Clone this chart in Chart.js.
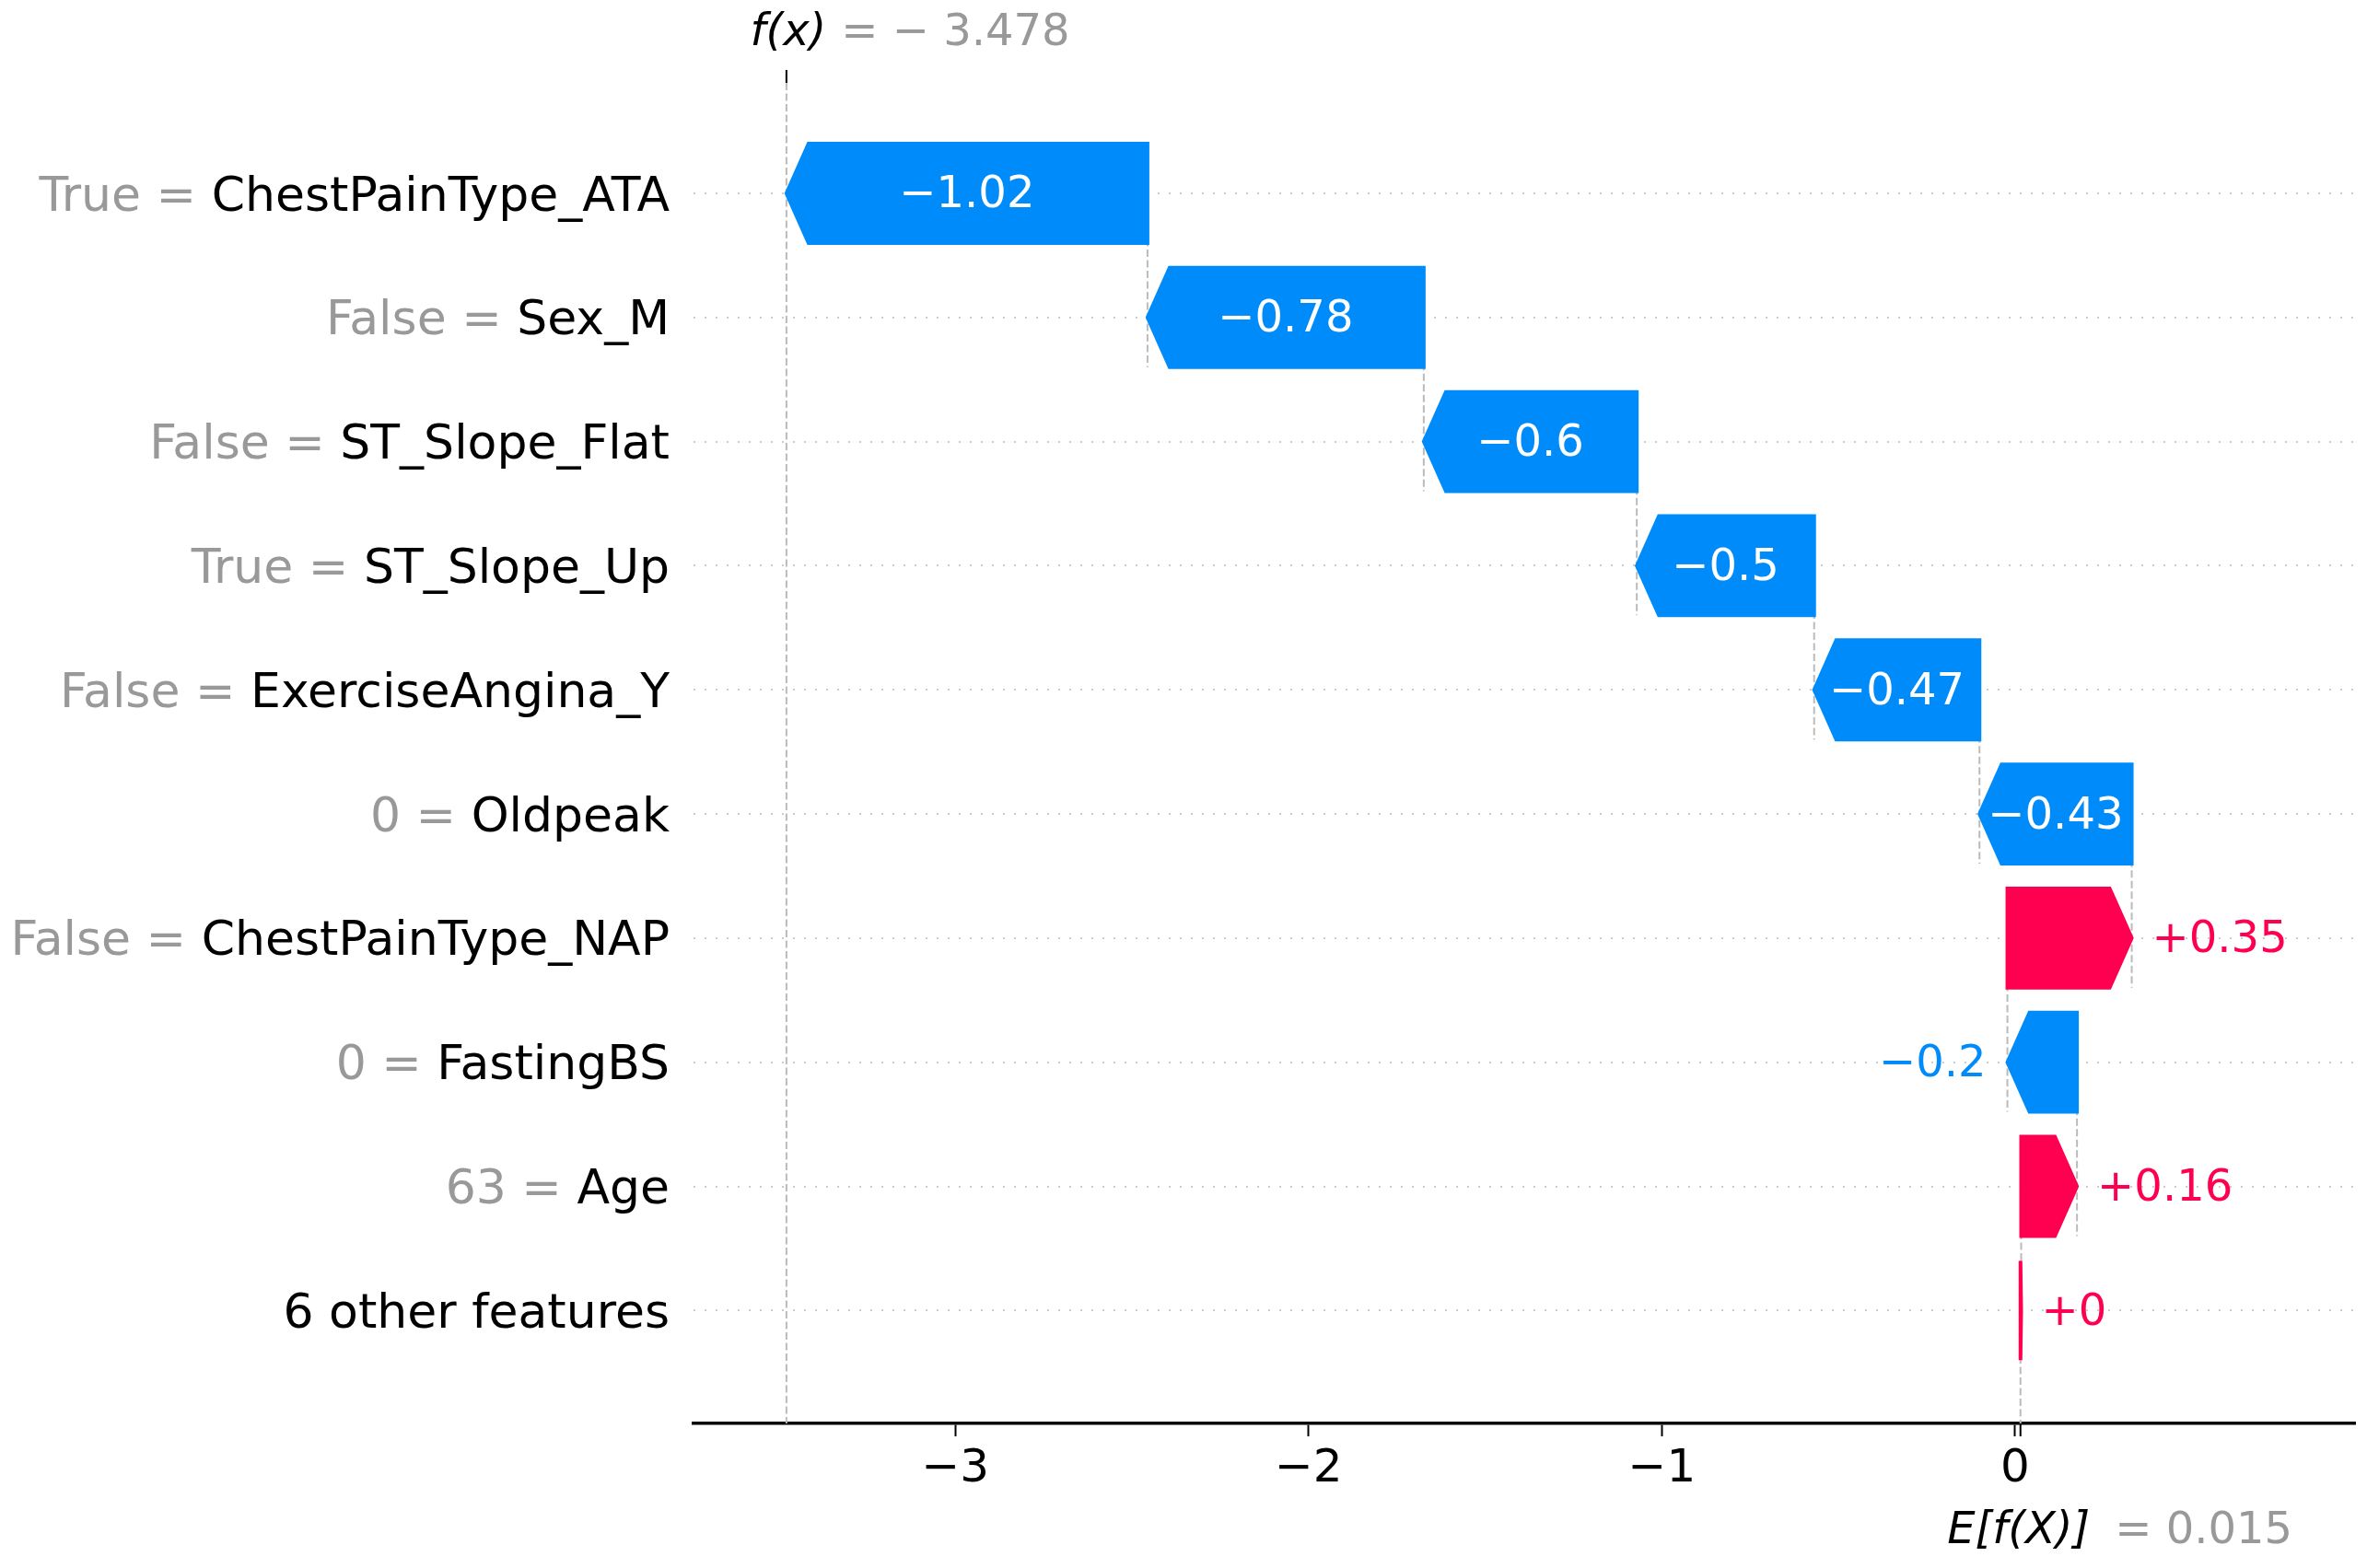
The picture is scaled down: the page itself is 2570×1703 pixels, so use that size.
<!DOCTYPE html>
<html>
<head>
<meta charset="utf-8">
<script src="https://cdn.jsdelivr.net/npm/chart.js@4.4.1/dist/chart.umd.min.js"></script>
<style>
  html, body { margin: 0; padding: 0; background: #fff; }
  canvas { display: block; }
</style>
</head>
<body>
<canvas id="waterfall" width="2570" height="1703"></canvas>
<script>
// rows from top to bottom
const featureNames = ['ChestPainType_ATA', 'Sex_M', 'ST_Slope_Flat', 'ST_Slope_Up', 'ExerciseAngina_Y',
                      'Oldpeak', 'ChestPainType_NAP', 'FastingBS', 'Age', '6 other features'];
const featureValues = ['True', 'False', 'False', 'True', 'False', '0', 'False', '0', '63', ''];
const shapValues = [-1.022, -0.782, -0.603, -0.502, -0.468, -0.431, 0.352, -0.197, 0.158, 0.002];
const baseValue = 0.015;
const fxValue = -3.478;
const xTicks = [-3, -2, -1, 0];

const RED = '#ff0051';
const BLUE = '#008bfb';
const FONT = 'DejaVu Sans';
const LABEL_SIZE = 52;   // feature names
const TICK_SIZE = 50;    // x ticks
const TEXT_SIZE = 48;    // bar values, f(x), E[f(X)]
const LABEL_SHIFT = 5;   // matplotlib centres text a little lower than canvas 'middle'

// waterfall: the bottom row starts at the base value
const starts = [];
const ends = [];
let acc = baseValue;
for (let i = shapValues.length - 1; i >= 0; i--) {
  starts[i] = acc;
  acc += shapValues[i];
  ends[i] = acc;
}

function fmtShap(v) {
  let s = (v >= 0 ? '+' : '') + v.toFixed(2);
  s = s.replace(/0+$/, '').replace(/\.$/, '');
  return s.replace('-', '\u2212');
}

const font = (size, style) => (style ? style + ' ' : '') + size + 'px "' + FONT + '"';

const waterfallPlugin = {
  id: 'waterfall',
  beforeDatasetsDraw(chart) {
    const {ctx, chartArea, scales: {x, y}} = chart;
    ctx.save();
    ctx.beginPath();
    ctx.rect(chartArea.left, chartArea.top, chartArea.right - chartArea.left, chartArea.bottom - chartArea.top);
    ctx.clip();
    ctx.strokeStyle = '#bbbbbb';
    ctx.lineWidth = 2;
    ctx.setLineDash([8, 3.5]);
    for (let i = 0; i < shapValues.length; i++) {
      const px = x.getPixelForValue(starts[i]);
      ctx.beginPath();
      ctx.moveTo(px, y.getPixelForValue(i - 0.4));
      ctx.lineTo(px, y.getPixelForValue(i + 1.4));
      ctx.stroke();
    }
    const fx = x.getPixelForValue(fxValue);
    ctx.beginPath();
    ctx.moveTo(fx, chartArea.top);
    ctx.lineTo(fx, chartArea.bottom);
    ctx.stroke();
    ctx.restore();
  },
  afterDatasetsDraw(chart) {
    const {ctx} = chart;
    const meta = chart.getDatasetMeta(0);
    const headLen = 24;
    ctx.save();
    ctx.font = font(TEXT_SIZE);
    ctx.textBaseline = 'middle';
    meta.data.forEach((bar, i) => {
      const p = bar.getProps(['x', 'base', 'y', 'height'], true);
      const lo = Math.min(p.x, p.base);
      const hi = Math.max(p.x, p.base);
      const len = hi - lo;
      const h = Math.min(headLen, len);
      const top = p.y - p.height / 2;
      const bot = p.y + p.height / 2;
      const pos = shapValues[i] >= 0;
      const color = pos ? RED : BLUE;

      ctx.beginPath();
      if (pos) {
        ctx.moveTo(lo, top); ctx.lineTo(hi - h, top); ctx.lineTo(hi, p.y);
        ctx.lineTo(hi - h, bot); ctx.lineTo(lo, bot);
      } else {
        ctx.moveTo(hi, top); ctx.lineTo(lo + h, top); ctx.lineTo(lo, p.y);
        ctx.lineTo(lo + h, bot); ctx.lineTo(hi, bot);
      }
      ctx.closePath();
      ctx.fillStyle = color;
      ctx.strokeStyle = color;
      ctx.lineWidth = 4;
      ctx.lineJoin = 'miter';
      ctx.fill();
      ctx.stroke();

      const txt = fmtShap(shapValues[i]);
      const tw = ctx.measureText(txt).width;
      const ty = p.y + 3;
      if (tw < len) {
        ctx.fillStyle = '#ffffff';
        ctx.textAlign = 'center';
        ctx.fillText(txt, (lo + hi) / 2, ty);
      } else {
        ctx.fillStyle = color;
        if (pos) {
          ctx.textAlign = 'left';
          ctx.fillText(txt, hi + 22, ty);
        } else {
          ctx.textAlign = 'right';
          ctx.fillText(txt, lo - 23, ty);
        }
      }
    });
    ctx.restore();
  },
  afterDraw(chart) {
    const {ctx, chartArea, scales: {x, y}} = chart;
    ctx.save();
    ctx.textBaseline = 'middle';

    // grey "value = " part of the feature labels
    ctx.font = font(LABEL_SIZE);
    ctx.fillStyle = '#999999';
    ctx.textAlign = 'right';
    const labelRight = chartArea.left - y.options.ticks.padding;
    featureNames.forEach((name, i) => {
      if (!featureValues[i]) return;
      const nw = ctx.measureText(name).width;
      ctx.fillText(featureValues[i] + ' = ', labelRight - nw, y.getPixelForValue(i) + LABEL_SHIFT);
    });

    // extra ticks for the base value (bottom) and f(x) (top)
    const bx = x.getPixelForValue(baseValue);
    const fx = x.getPixelForValue(fxValue);
    ctx.strokeStyle = '#000';
    ctx.lineWidth = 2;
    ctx.beginPath();
    ctx.moveTo(bx, chartArea.bottom); ctx.lineTo(bx, chartArea.bottom + 14);
    ctx.moveTo(fx, chartArea.top - 14); ctx.lineTo(fx, chartArea.top);
    ctx.stroke();

    // E[f(X)] = 0.015
    ctx.font = font(TEXT_SIZE, 'italic');
    ctx.fillStyle = '#000';
    ctx.textAlign = 'center';
    const eLabel = 'E[f(X)]';
    const ew = ctx.measureText(eLabel).width;
    ctx.fillText(eLabel, bx - 2, 1664);
    ctx.font = font(TEXT_SIZE);
    ctx.fillStyle = '#999999';
    ctx.textAlign = 'left';
    ctx.fillText('= ' + baseValue.toFixed(3), bx + ew / 2 + 25, 1664);

    // f(x) = -3.478
    ctx.font = font(TEXT_SIZE, 'italic');
    ctx.fillStyle = '#000';
    ctx.textAlign = 'center';
    const fLabel = 'f(x)';
    const fw = ctx.measureText(fLabel).width;
    ctx.fillText(fLabel, fx + 2, 37);
    ctx.font = font(TEXT_SIZE);
    ctx.fillStyle = '#999999';
    ctx.textAlign = 'left';
    ctx.fillText('= \u2212 ' + Math.abs(fxValue).toFixed(3), fx + fw / 2 + 18, 37);
    ctx.restore();
  }
};

new Chart(document.getElementById('waterfall'), {
  type: 'bar',
  data: {
    datasets: [{
      data: shapValues.map((v, i) => ({ y: i, x: [starts[i], ends[i]] })),
      backgroundColor: 'rgba(0,0,0,0)',
      borderWidth: 0,
      barPercentage: 0.8,
      categoryPercentage: 1.0
    }]
  },
  options: {
    indexAxis: 'y',
    responsive: false,
    devicePixelRatio: 1,
    animation: false,
    layout: { padding: { top: 90, right: 13, left: 0, bottom: 0 } },
    plugins: { legend: { display: false }, tooltip: { enabled: false } },
    scales: {
      x: {
        type: 'linear',
        position: 'bottom',
        min: -3.741,
        max: 0.962,
        afterBuildTicks: s => { s.ticks = xTicks.map(v => ({ value: v })); },
        afterFit: s => { s.height = 157; },
        ticks: {
          autoSkip: false,
          maxRotation: 0,
          padding: 6,
          color: '#000',
          font: { family: FONT, size: TICK_SIZE },
          callback: v => String(v).replace('-', '\u2212')
        },
        grid: { display: true, drawOnChartArea: false, drawTicks: true, tickLength: 14, tickWidth: 2, tickColor: '#000' },
        border: { display: true, color: '#000', width: 3.5 }
      },
      y: {
        type: 'linear',
        reverse: true,
        offset: false,
        min: -0.89,
        max: 9.91,
        afterBuildTicks: s => { s.ticks = featureNames.map((_, i) => ({ value: i })); },
        afterFit: s => { s.width = 753; },
        ticks: {
          autoSkip: false,
          padding: 26,
          labelOffset: LABEL_SHIFT,
          color: '#000',
          font: { family: FONT, size: LABEL_SIZE },
          callback: v => featureNames[v]
        },
        grid: { display: true, offset: false, drawOnChartArea: true, drawTicks: false, color: '#cccccc', lineWidth: 2 },
        border: { display: false, dash: [2, 10] }
      }
    }
  },
  plugins: [waterfallPlugin]
});
</script>
</body>
</html>
